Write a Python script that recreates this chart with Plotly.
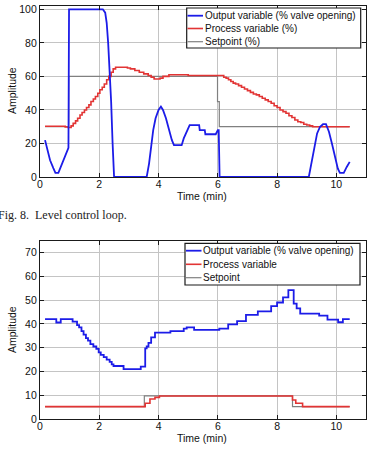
import plotly.graph_objects as go

W, H = 369, 453
ML, MR, MT, MB = 40, 3, 6, 34

# ---------------- data: Fig. 8 (level control loop) ----------------
t_out_a = [0.17, 0.25, 0.34, 0.45, 0.52, 0.62, 0.68, 0.79, 0.9, 0.96, 0.98,
           2.12, 2.2, 2.25, 2.3, 2.35, 2.4, 2.45, 2.5, 3.6, 3.68, 3.75, 3.82,
           3.9, 4.0, 4.08, 4.15, 4.25, 4.35, 4.45, 4.52, 4.78, 4.85, 4.95,
           5.05, 5.37, 5.39, 5.56, 5.58, 5.93, 6.0, 6.03, 6.06, 9.07, 9.15,
           9.25, 9.35, 9.45, 9.55, 9.65, 9.75, 9.85, 9.95, 10.05, 10.12,
           10.25, 10.35, 10.45]
v_out_a = [22, 16, 10, 5.3, 2.5, 2.5, 5, 10, 14, 17.4, 100,
           100, 98, 92, 80, 65, 45, 20, 0, 0, 8, 18, 28,
           35, 40, 42, 40, 35, 28, 22, 19, 19, 23, 27,
           31, 31, 28, 28, 25.5, 25.5, 28, 28, 0, 0, 8,
           18, 26, 30, 31.5, 31.5, 27, 20, 12, 5, 2.5,
           2.5, 6, 9]

t_pv_a = [0.17, 0.85, 0.95, 1.05, 1.12, 1.2, 1.27, 1.35, 1.42, 1.5, 1.57,
          1.65, 1.72, 1.8, 1.87, 1.95, 2.02, 2.1, 2.17, 2.25, 2.32, 2.4,
          2.47, 2.55, 2.95, 3.05, 3.2, 3.35, 3.5, 3.65, 3.75, 3.85, 4.05,
          4.15, 4.35, 5.0, 6.2, 6.28, 6.36, 6.44, 6.52, 6.6, 6.7, 6.8, 6.9,
          7.0, 7.1, 7.2, 7.3, 7.4, 7.5, 7.6, 7.7, 7.8, 7.9, 8.0, 8.1, 8.2,
          8.3, 8.4, 8.5, 8.6, 8.7, 8.8, 8.9, 9.0, 9.1, 9.2, 10.45]
v_pv_a = [30.3, 29.8, 29.5, 30.5, 32, 33.5, 35, 37, 38.5, 40, 41.5,
          43, 45, 46.5, 48, 50, 52, 53.5, 55.5, 58, 60, 62.5,
          64.5, 65.5, 65, 64.5, 63.5, 62.5, 61.5, 60.5, 59.5, 58.5, 59,
          60, 61, 60.5, 59.5, 59, 58, 57, 56, 55.5, 54.5, 53.5, 52.5,
          51.5, 50.5, 49.5, 49, 48, 47, 46, 45, 44, 42.5, 41.5, 40, 39,
          38, 36.5, 35.5, 34, 33, 32.5, 31.5, 31, 30.5, 30, 30]

t_sp_a = [0.17, 0.97, 5.99, 6.05, 10.45]
v_sp_a = [30, 60, 45, 30, 30]

# ---------------- data: Fig. 9 (flow control loop) ----------------
t_out_b = [0.17, 0.55, 0.7, 1.1, 1.25, 1.32, 1.4, 1.47, 1.55, 1.62, 1.7,
           1.8, 1.9, 1.98, 2.05, 2.15, 2.25, 2.35, 2.42, 2.48, 2.82, 3.4,
           3.55, 3.6, 3.66, 3.75, 3.88, 4.4, 4.85, 4.95, 5.2, 6.05, 6.35,
           6.65, 6.95, 7.35, 7.8, 8.0, 8.2, 8.38, 8.56, 8.66, 8.78, 9.42,
           9.7, 10.06, 10.22, 10.45]
v_out_b = [42, 40.6, 42, 41, 39.5, 38.5, 37, 35.5, 34, 33, 31.5,
           30.5, 29.5, 28, 27, 26, 25, 24, 23, 22.3, 21, 22,
           29.7, 30.5, 32, 34.3, 36.3, 37, 38, 38.5, 37.5, 38, 39.8,
           41.2, 43.8, 45.3, 47.5, 49, 51.2, 54.2, 48.5, 46.5, 44.3, 43.5,
           41.8, 40.7, 42, 42]

t_pv_b = [0.17, 3.55, 3.71, 3.88, 4.03, 8.52, 8.63, 8.86, 10.45]
v_pv_b = [5.2, 6.6, 8.4, 9.1, 9.7, 8.0, 6.6, 5.2, 5.2]

t_sp_b = [0.17, 3.52, 8.52, 10.45]
v_sp_b = [5.2, 9.7, 5.2, 5.2]

x_ticks = [0, 2, 4, 6, 8, 10]
y_ticks_a = [0, 20, 40, 60, 80, 100]
y_ticks_b = [0, 10, 20, 30, 40, 50, 60, 70]

names_a = ["Output variable (% valve opening)", "Process variable (%)", "Setpoint (%)"]
names_b = ["Output variable (% valve opening)", "Process variable", "Setpoint"]

BLUE, RED, GRAY = "#1c1ce8", "#e23434", "#808080"
FONT = "Liberation Sans, Arial, sans-serif"
SERIF = "Liberation Serif, Times New Roman, serif"


def px(x):
    return (x - ML) / (W - ML - MR)


def py(y):
    return (H - MB - y) / (H - MT - MB)


fig = go.Figure()

for xa, ya, t_sp, v_sp, t_pv, v_pv, t_o, v_o, nm, shape_o in [
    ("x", "y", t_sp_a, v_sp_a, t_pv_a, v_pv_a, t_out_a, v_out_a, names_a, "linear"),
    ("x2", "y2", t_sp_b, v_sp_b, t_pv_b, v_pv_b, t_out_b, v_out_b, names_b, "hv"),
]:
    fig.add_trace(go.Scatter(x=t_sp, y=v_sp, mode="lines", name=nm[2], xaxis=xa, yaxis=ya,
                             line=dict(color=GRAY, width=1.2, shape="hv"), showlegend=False))
    fig.add_trace(go.Scatter(x=t_pv, y=v_pv, mode="lines", name=nm[1], xaxis=xa, yaxis=ya,
                             line=dict(color=RED, width=1.6, shape="hv"), showlegend=False))
    fig.add_trace(go.Scatter(x=t_o, y=v_o, mode="lines", name=nm[0], xaxis=xa, yaxis=ya,
                             line=dict(color=BLUE, width=1.8, shape=shape_o), showlegend=False))

axis_common = dict(
    showgrid=True, gridcolor="#c4c4c4", gridwidth=1,
    showline=True, linecolor="#1a1a1a", linewidth=1.2, mirror="ticks",
    ticks="inside", ticklen=4, tickcolor="#1a1a1a", zeroline=False,
    tickfont=dict(family=FONT, size=10.5, color="#111"),
)

top_dom = [py(177), 1.0]
bot_dom = [0.0, py(240.7)]

fig.update_layout(
    width=W, height=H,
    margin=dict(l=ML, r=MR, t=MT, b=MB),
    paper_bgcolor="white", plot_bgcolor="white",
    showlegend=False,
    xaxis=dict(axis_common, range=[0, 11], tickvals=x_ticks, anchor="y", domain=[0, 1], ticklabelstandoff=-3),
    yaxis=dict(axis_common, range=[0, 102], tickvals=y_ticks_a, anchor="x", domain=top_dom),
    xaxis2=dict(axis_common, range=[0, 11], tickvals=x_ticks, anchor="y2", domain=[0, 1], ticklabelstandoff=-3),
    yaxis2=dict(axis_common, range=[0, 75], tickvals=y_ticks_b, anchor="x2", domain=bot_dom),
)

shapes = []
annots = []

# axis titles and captions
for yc_amp, yc_time, yc_cap, cap in [
    (91, 195.5, 214.5, "Fig. 8.\u00a0 Level control loop."),
    (330, 438, 458, "Fig. 9.\u00a0 Flow control loop."),
]:
    annots.append(dict(text="Amplitude", textangle=-90, x=px(12), y=py(yc_amp), xref="paper", yref="paper",
                       showarrow=False, font=dict(family=FONT, size=10.5, color="#111"),
                       xanchor="center", yanchor="middle"))
    annots.append(dict(text="Time (min)", x=px(202), y=py(yc_time), xref="paper", yref="paper",
                       showarrow=False, font=dict(family=FONT, size=10.5, color="#111"),
                       xanchor="center", yanchor="middle"))
    annots.append(dict(text=cap, x=px(-4), y=py(yc_cap), xref="paper", yref="paper",
                       showarrow=False, font=dict(family=SERIF, size=12, color="#222"),
                       xanchor="left", yanchor="middle"))

# manual legends (MATLAB style)
for (x0, x1, y0, y1, rows, lx0, lx1, tx), nm in [
    ((186.7, 360.7, 8, 48, [15.7, 28.5, 41.7], 187.5, 203, 203.5), names_a),
    ((185, 360, 243.3, 285, [250.7, 264.3, 277.7], 186, 201.5, 202), names_b),
]:
    shapes.append(dict(type="rect", xref="paper", yref="paper", x0=px(x0), x1=px(x1), y0=py(y1), y1=py(y0),
                       line=dict(color="#1a1a1a", width=1.2), fillcolor="white", layer="above"))
    for ry, col, wd, name in zip(rows, [BLUE, RED, GRAY], [1.8, 1.6, 1.2], nm):
        shapes.append(dict(type="line", xref="paper", yref="paper", x0=px(lx0), x1=px(lx1), y0=py(ry), y1=py(ry),
                           line=dict(color=col, width=wd), layer="above"))
        annots.append(dict(text=name, x=px(tx), y=py(ry), xref="paper", yref="paper", showarrow=False,
                           font=dict(family=FONT, size=10, color="#111"), xanchor="left", yanchor="middle",
                           borderpad=0))

fig.update_layout(shapes=shapes, annotations=annots)

fig.write_html("out.html")
